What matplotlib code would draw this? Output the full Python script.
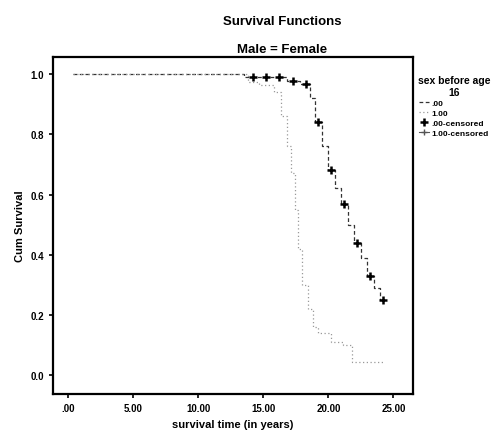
import matplotlib.pyplot as plt
import numpy as np

# survival data (step curves)
male_t = [0.4, 13.8, 14.7, 15.8, 16.4, 16.8, 17.1, 17.4, 17.7, 18.0, 18.4, 18.8, 19.2, 20.2, 21.1, 21.8, 24.2]
male_s = [1.0, 0.975, 0.963, 0.94, 0.86, 0.76, 0.67, 0.55, 0.42, 0.30, 0.22, 0.16, 0.14, 0.11, 0.10, 0.045, 0.045]

female_t = [0.4, 13.5, 16.8, 17.8, 18.6, 19.0, 19.5, 20.0, 20.5, 21.0, 21.5, 22.0, 22.5, 23.0, 23.5, 24.0, 24.2]
female_s = [1.0, 0.99, 0.976, 0.967, 0.92, 0.84, 0.76, 0.68, 0.62, 0.57, 0.50, 0.44, 0.39, 0.33, 0.29, 0.25, 0.25]

censor_t = [14.2, 15.2, 16.2, 17.3, 18.3, 19.2, 20.2, 21.2, 22.2, 23.2, 24.2]

x_ticks = [0, 5, 10, 15, 20, 25]
x_labels = [".00", "5.00", "10.00", "15.00", "20.00", "25.00"]
y_ticks = [0.0, 0.2, 0.4, 0.6, 0.8, 1.0]
legend_labels = [".00", "1.00", ".00-censored", "1.00-censored"]

plt.rcParams['font.family'] = ['Liberation Sans', 'DejaVu Sans']
plt.rcParams['font.weight'] = 'bold'

fig = plt.figure(figsize=(5, 4.39), dpi=100)
ax = fig.add_axes([0.106, 0.100, 0.72, 0.768])

l1, = ax.step(female_t, female_s, where='post', color='#333333', lw=0.9, ls=(0, (3, 2)))
l2, = ax.step(male_t, male_s, where='post', color='#999999', lw=0.9, ls=(0, (1, 2)))
cens_s = [female_s[np.searchsorted(female_t, t, side='right') - 1] for t in censor_t]
m1, = ax.plot(censor_t, cens_s, ls='none', marker='+', ms=6, mew=1.8, color='black')
m2, = ax.plot([], [], ls='-', lw=0.8, marker='+', ms=5, color='#555555')

ax.set_xlim(-1.15, 26.5)
ax.set_ylim(-0.063, 1.057)
ax.set_xticks(x_ticks)
ax.set_xticklabels(x_labels)
ax.set_yticks(y_ticks)
ax.set_yticklabels([f"{v:.1f}" for v in y_ticks])
ax.tick_params(labelsize=7, length=3, width=1.2, direction='out')
for s in ax.spines.values():
    s.set_linewidth(1.6)

ax.set_xlabel("survival time (in years)", fontsize=8, fontweight='bold')
ax.set_ylabel("Cum Survival", fontsize=8, fontweight='bold')
fig.text(0.564, 0.95, "Survival Functions", ha='center', va='center', fontsize=9.5, fontweight='bold')
fig.text(0.564, 0.886, "Male = Female", ha='center', va='center', fontsize=9.5, fontweight='bold')

leg = ax.legend([l1, l2, m1, m2], legend_labels, title="sex before age\n16",
                loc='upper left', bbox_to_anchor=(1.0, 0.96), frameon=False,
                fontsize=6, title_fontsize=7.5, handlelength=1.2, handletextpad=0.3,
                labelspacing=0.25, borderaxespad=0.2)
leg.get_title().set_fontweight('bold')
leg.get_title().set_multialignment('center')

fig.savefig("out.png", dpi=100)
